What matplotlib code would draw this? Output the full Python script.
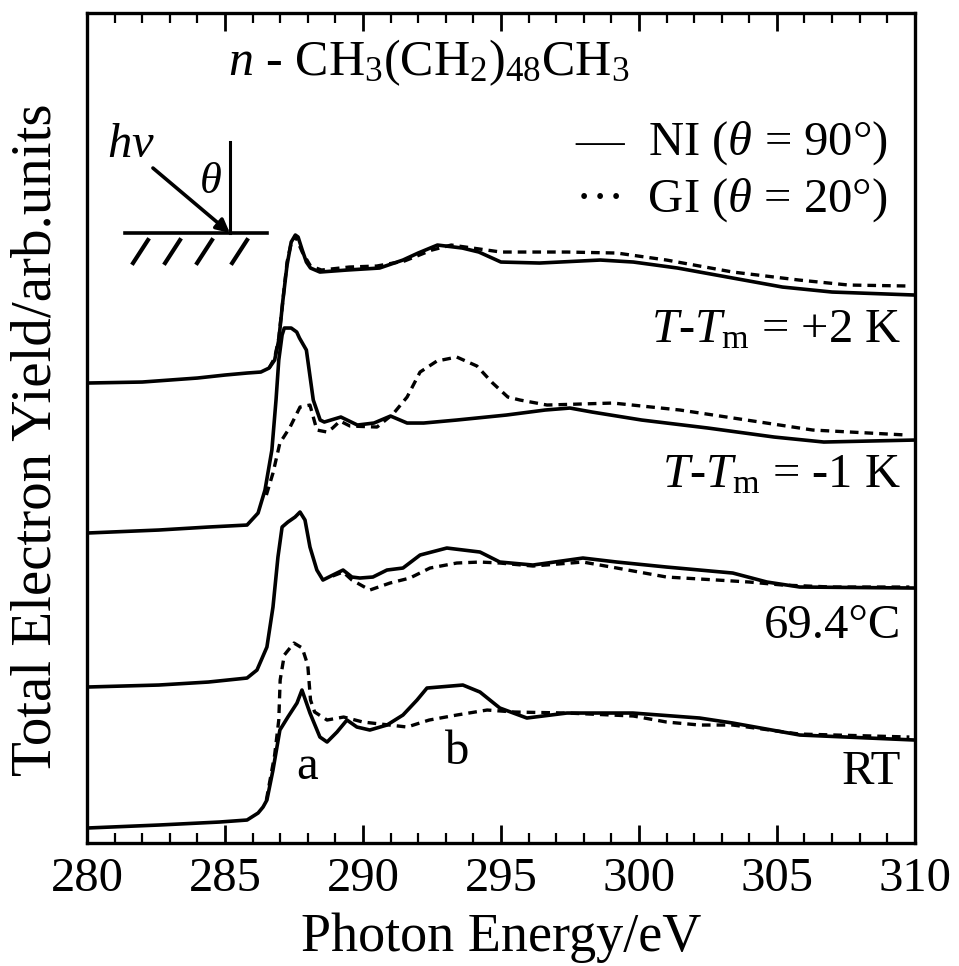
import matplotlib
matplotlib.use("Agg")
import matplotlib.pyplot as plt
from matplotlib.ticker import MultipleLocator

plt.rcParams['font.family'] = ['Liberation Serif', 'DejaVu Serif']
plt.rcParams['mathtext.fontset'] = 'custom'
plt.rcParams['mathtext.rm'] = 'Liberation Serif'
plt.rcParams['mathtext.it'] = 'Liberation Serif:italic'
plt.rcParams['mathtext.bf'] = 'Liberation Serif:bold'

# ---- spectra (photon energy in eV, yield in arb. units incl. vertical offset) ----
# T - Tm = +2 K
e_p2_ni = [280.0, 282.0, 284.0, 285.0, 285.8, 286.3, 286.6, 286.8, 286.95, 287.1, 287.25, 287.4,
           287.55, 287.65, 287.8, 287.95, 288.1, 288.44, 289.42, 290.6, 291.45, 292.0, 292.7,
           293.6, 294.2, 295.0, 296.4, 298.6, 299.8, 301.4, 303.4, 305.2, 307.0, 310.0]
y_p2_ni = [4.60, 4.61, 4.65, 4.68, 4.70, 4.71, 4.75, 4.83, 5.03, 5.43, 5.78, 6.01,
           6.08, 6.06, 5.93, 5.81, 5.75, 5.71, 5.73, 5.75, 5.83, 5.90, 5.98,
           5.95, 5.91, 5.81, 5.80, 5.83, 5.81, 5.75, 5.65, 5.56, 5.51, 5.48]
e_p2_gi = [286.6, 286.8, 286.95, 287.1, 287.25, 287.4, 287.55, 287.8, 288.1, 288.5, 289.5, 290.5,
           291.5, 292.5, 293.2, 295.0, 297.4, 299.2, 301.0, 303.4, 305.8, 307.6, 309.8]
y_p2_gi = [4.75, 4.85, 5.05, 5.43, 5.81, 6.00, 6.07, 5.91, 5.77, 5.73, 5.76, 5.77,
           5.82, 5.93, 5.98, 5.91, 5.91, 5.90, 5.83, 5.71, 5.63, 5.58, 5.57]

# T - Tm = -1 K
e_m1_ni = [280.0, 282.6, 284.4, 285.8, 286.2, 286.45, 286.7, 286.85, 286.95, 287.07, 287.15, 287.4,
           287.6, 287.7, 287.95, 288.2, 288.45, 288.6, 289.2, 289.8, 290.4, 291.0, 291.6, 292.2,
           293.4, 295.2, 296.6, 297.5, 298.3, 300.1, 302.5, 304.9, 306.7, 310.0]
y_m1_ni = [3.10, 3.13, 3.16, 3.18, 3.30, 3.53, 3.93, 4.43, 4.83, 5.08, 5.15, 5.15,
           5.11, 5.05, 4.93, 4.43, 4.23, 4.21, 4.26, 4.18, 4.20, 4.27, 4.20, 4.20,
           4.23, 4.28, 4.33, 4.35, 4.31, 4.23, 4.15, 4.06, 4.01, 4.03]
e_m1_gi = [286.5, 286.74, 286.99, 287.36, 287.72, 288.08, 288.33, 288.7, 288.9, 289.17, 289.53,
           290.51, 291.09, 291.6, 292.07, 292.68, 293.4, 294.13, 294.7, 295.25, 295.69, 296.67,
           299.06, 301.49, 303.9, 306.3, 309.7]
y_m1_gi = [3.48, 3.70, 4.00, 4.16, 4.36, 4.38, 4.13, 4.11, 4.15, 4.22, 4.17,
           4.16, 4.29, 4.46, 4.71, 4.82, 4.86, 4.77, 4.60, 4.46, 4.43, 4.38,
           4.40, 4.33, 4.23, 4.13, 4.08]

# 69.4 C
e_69_ni = [280.0, 282.6, 284.4, 285.8, 286.16, 286.52, 286.74, 286.92, 287.07, 287.28, 287.54,
           287.72, 287.9, 288.08, 288.33, 288.55, 288.91, 289.28, 289.6, 289.89, 290.36, 290.87,
           291.45, 292.07, 293.04, 294.24, 294.96, 296.16, 297.97, 299.2, 301.0, 303.4, 304.64,
           305.83, 310.0]
y_69_ni = [1.56, 1.58, 1.61, 1.65, 1.73, 1.96, 2.36, 2.86, 3.16, 3.21, 3.26,
           3.31, 3.23, 2.96, 2.73, 2.63, 2.68, 2.73, 2.66, 2.65, 2.66, 2.73,
           2.75, 2.88, 2.95, 2.91, 2.81, 2.78, 2.85, 2.81, 2.76, 2.70, 2.61,
           2.56, 2.55]
e_69_gi = [288.9, 289.28, 289.6, 290.25, 290.98, 291.7, 292.43, 293.4, 294.24, 294.96, 296.16,
           297.97, 299.2, 301.0, 302.83, 304.0, 305.2, 307.0, 309.8]
y_69_gi = [2.67, 2.71, 2.63, 2.53, 2.60, 2.65, 2.75, 2.80, 2.81, 2.80, 2.77,
           2.81, 2.75, 2.66, 2.63, 2.61, 2.58, 2.56, 2.56]

# RT
e_rt_ni = [280.0, 282.6, 284.8, 285.8, 286.2, 286.38, 286.52, 286.74, 286.99, 287.28, 287.61,
           287.79, 288.08, 288.44, 288.7, 289.06, 289.42, 289.78, 290.25, 290.87, 291.45, 291.96,
           292.32, 293.62, 294.24, 294.96, 295.94, 297.39, 299.78, 302.2, 303.4, 305.83, 310.0]
y_rt_ni = [0.15, 0.18, 0.21, 0.23, 0.30, 0.36, 0.43, 0.73, 1.13, 1.26, 1.40,
           1.53, 1.30, 1.06, 1.01, 1.11, 1.23, 1.16, 1.13, 1.18, 1.28, 1.43,
           1.55, 1.58, 1.51, 1.35, 1.25, 1.30, 1.30, 1.25, 1.20, 1.08, 1.03]
e_rt_gi = [286.5, 286.8, 286.95, 287.0, 287.15, 287.5, 287.8, 288.0, 288.1, 288.25, 288.7,
           289.3, 290.0, 291.6, 292.4, 293.4, 294.5, 295.5, 297.4, 299.8, 301.0, 302.2, 303.4,
           305.8, 309.8]
y_rt_gi = [0.43, 0.88, 1.23, 1.63, 1.88, 2.00, 1.95, 1.78, 1.43, 1.31, 1.23,
           1.26, 1.21, 1.16, 1.23, 1.28, 1.33, 1.31, 1.30, 1.27, 1.21, 1.18, 1.18,
           1.09, 1.06]

spectra = [
    (e_p2_ni, y_p2_ni, e_p2_gi, y_p2_gi),
    (e_m1_ni, y_m1_ni, e_m1_gi, y_m1_gi),
    (e_69_ni, y_69_ni, e_69_gi, y_69_gi),
    (e_rt_ni, y_rt_ni, e_rt_gi, y_rt_gi),
]

FS = 35

fig = plt.figure(figsize=(9.59, 9.66), dpi=100)
ax = fig.add_axes([0.0907, 0.1273, 0.8633, 0.8592])

for e_ni, y_ni, e_gi, y_gi in spectra:
    ax.plot(e_gi, y_gi, color='black', lw=2.4, ls=(0, (2.6, 1.8)))
    ax.plot(e_ni, y_ni, color='black', lw=2.6, solid_joinstyle='round')

ax.set_xlim(280, 310)
ax.set_ylim(0, 8.30)
ax.xaxis.set_major_locator(MultipleLocator(5))
ax.xaxis.set_minor_locator(MultipleLocator(1))
ax.set_yticks([])
ax.tick_params(axis='x', which='both', direction='in', top=True, bottom=True,
               labelsize=FS, pad=10)
ax.tick_params(axis='x', which='major', length=13, width=2)
ax.tick_params(axis='x', which='minor', length=7, width=1.6)
for s in ax.spines.values():
    s.set_linewidth(2.4)

ax.set_xlabel('Photon Energy/eV', fontsize=39, labelpad=8)
ax.set_ylabel('Total Electron Yield/arb.units', fontsize=41)
ax.yaxis.set_label_coords(-0.030, 0.486)

# sample formula and legend
ax.text(292.4, 7.80, r'$n$ - CH$_3$(CH$_2$)$_{48}$CH$_3$', fontsize=36,
        ha='center', va='center')
ax.text(309.0, 7.00, r'—  NI ($\theta$ = 90°)', fontsize=FS, ha='right', va='center')
ax.text(309.0, 6.43, r'···  GI ($\theta$ = 20°)', fontsize=FS, ha='right', va='center')

# temperature labels
ax.text(309.5, 5.13, r'$T$-$T_{\rm m}$ = +2 K', fontsize=FS, ha='right', va='center')
ax.text(309.5, 3.68, r'$T$-$T_{\rm m}$ = -1 K', fontsize=FS, ha='right', va='center')
ax.text(309.5, 2.17, '69.4°C', fontsize=FS, ha='right', va='center')
ax.text(309.5, 0.71, 'RT', fontsize=FS, ha='right', va='center')

# peak labels
ax.text(287.96, 0.76, 'a', fontsize=FS, ha='center', va='center')
ax.text(293.4, 0.91, 'b', fontsize=FS, ha='center', va='center')

# incidence geometry sketch
ax.plot([281.38, 286.52], [6.10, 6.10], color='black', lw=2.6)
ax.plot([285.18, 285.18], [6.10, 7.01], color='black', lw=2.2)
for hx in [282.21, 283.37, 284.53, 285.80]:
    ax.plot([hx, hx - 0.54], [6.03, 5.80], color='black', lw=3.0)
ax.annotate('', xy=(285.18, 6.10), xytext=(282.39, 6.75),
            arrowprops=dict(arrowstyle='-|>', color='black', lw=2.6,
                            mutation_scale=20, shrinkA=0, shrinkB=0))
ax.text(281.6, 6.98, r'$h\nu$', fontsize=FS, ha='center', va='center')
ax.text(284.46, 6.61, r'$\theta$', fontsize=FS - 3, ha='center', va='center')

fig.savefig('out.png', dpi=100)
